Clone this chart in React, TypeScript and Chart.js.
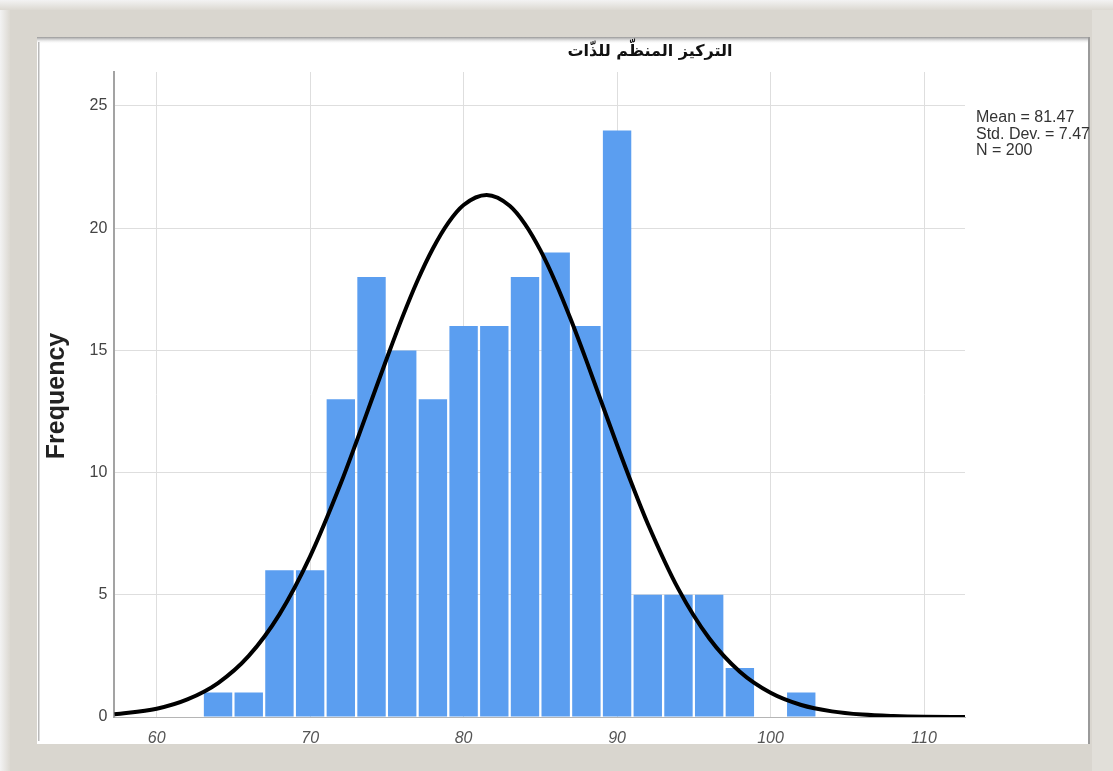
import React, { useEffect, useRef } from "react";
import { Chart, registerables } from "chart.js";

Chart.register(...registerables);

// ---- data ----
const chartTitle = "التركيز المنظّم للذّات";
const yAxisTitle = "Frequency";
const statsLines = ["Mean = 81.47", "Std. Dev. = 7.47", "N = 200"];

const binCenters = [64, 66, 68, 70, 72, 74, 76, 78, 80, 82, 84, 86, 88, 90, 92, 94, 96, 98, 100, 102];
const frequencies = [1, 1, 6, 6, 13, 18, 15, 13, 16, 16, 18, 19, 16, 24, 5, 5, 5, 2, 0, 1];

const curveX = [57.24, 60, 62, 64, 66, 68, 70, 72, 73, 74, 75, 76, 77, 78, 79, 80, 81.5, 83, 84, 85, 86, 87, 88, 89, 90, 91, 92, 94, 96, 98, 100, 102, 104, 106, 108, 110, 112.67];
const curveY = [0.11, 0.34, 0.72, 1.39, 2.5, 4.2, 6.57, 9.56, 11.23, 12.96, 14.68, 16.34, 17.86, 19.17, 20.22, 20.95, 21.36, 20.92, 20.17, 19.1, 17.77, 16.24, 14.58, 12.85, 11.13, 9.47, 7.91, 5.23, 3.22, 1.85, 0.99, 0.49, 0.23, 0.1, 0.04, 0.01, 0.0];

const xTicks = [60, 70, 80, 90, 100, 110];
const yTicks = [0, 5, 10, 15, 20, 25];

const X_MIN = 57.24;
const X_MAX = 112.67;
const Y_MAX = 26.39;

const W = 1113;
const H = 771;

const framePlugin = {
  id: "frame",
  beforeDraw(chart: any) {
    const ctx = chart.ctx as CanvasRenderingContext2D;
    ctx.save();
    ctx.fillStyle = "#d9d6cf";
    ctx.fillRect(0, 0, W, H);
    let g = ctx.createLinearGradient(0, 0, 0, 10);
    g.addColorStop(0, "#f3f3f3");
    g.addColorStop(1, "#dcd9d2");
    ctx.fillStyle = g;
    ctx.fillRect(0, 0, W, 10);
    g = ctx.createLinearGradient(0, 0, 10, 0);
    g.addColorStop(0, "#f3f3f3");
    g.addColorStop(1, "#dcd9d2");
    ctx.fillStyle = g;
    ctx.fillRect(0, 10, 10, H - 10);
    // right lighter band
    ctx.fillStyle = "#e1dfd9";
    ctx.fillRect(1092, 10, W - 1092, H - 10);
    // white panel
    ctx.fillStyle = "#ffffff";
    ctx.fillRect(37, 37, 1053, 707);
    // top shadow
    g = ctx.createLinearGradient(0, 37, 0, 44);
    g.addColorStop(0, "rgba(140,140,140,0.9)");
    g.addColorStop(1, "rgba(255,255,255,0)");
    ctx.fillStyle = g;
    ctx.fillRect(37, 37, 1053, 7);
    // left line
    ctx.fillStyle = "#b9b9b9";
    ctx.fillRect(38, 42, 1.5, 699);
    // right line
    ctx.fillStyle = "#9a9a9a";
    ctx.fillRect(1088, 37, 2, 707);
    ctx.restore();
  },
  afterDraw(chart: any) {
    const ctx = chart.ctx as CanvasRenderingContext2D;
    ctx.save();
    // title
    ctx.fillStyle = "#111111";
    ctx.font = 'bold 16px "DejaVu Sans"';
    ctx.textAlign = "center";
    ctx.textBaseline = "middle";
    ctx.fillText(chartTitle, 650, 52);
    // y title
    ctx.save();
    ctx.translate(57, 396);
    ctx.rotate(-Math.PI / 2);
    ctx.font = 'bold 25px "Liberation Sans"';
    ctx.fillStyle = "#222222";
    ctx.textAlign = "center";
    ctx.textBaseline = "middle";
    ctx.fillText(yAxisTitle, 0, 0);
    ctx.restore();
    // stats
    ctx.font = '16px "Liberation Sans"';
    ctx.fillStyle = "#333333";
    ctx.textAlign = "left";
    ctx.textBaseline = "alphabetic";
    statsLines.forEach((t, i) => ctx.fillText(t, 976, 122 + i * 16.5));
    ctx.restore();
  },
};

export default function App() {
  const ref = useRef<HTMLCanvasElement | null>(null);
  useEffect(() => {
    if (!ref.current) return;
    const chart = new Chart(ref.current, {
      type: "bar",
      data: {
        datasets: [
          {
            type: "line",
            data: curveX.map((x, i) => ({ x, y: curveY[i] })),
            borderColor: "#000000",
            borderWidth: 4,
            pointRadius: 0,
            fill: false,
            cubicInterpolationMode: "monotone",
            order: 0,
          } as any,
          {
            type: "bar",
            data: binCenters.map((x, i) => ({ x, y: frequencies[i] })),
            backgroundColor: "#5b9ef0",
            borderWidth: 0,
            barPercentage: 0.925,
            categoryPercentage: 1,
            order: 1,
          } as any,
        ],
      },
      options: {
        responsive: false,
        animation: false,
        devicePixelRatio: 1,
        layout: { padding: { left: 0, top: 72, right: 148, bottom: 14 } },
        plugins: { legend: { display: false }, tooltip: { enabled: false }, title: { display: false } },
        scales: {
          x: {
            type: "linear",
            min: X_MIN,
            max: X_MAX,
            offset: false,
            afterBuildTicks: (s: any) => {
              s.ticks = xTicks.map((v) => ({ value: v }));
            },
            afterFit: (s: any) => {
              s.height = 40;
            },
            grid: { color: "#dedede", lineWidth: 1, drawTicks: false, offset: false },
            border: { display: true, color: "#b5b5b5", width: 1 },
            ticks: {
              padding: 12,
              color: "#555555",
              autoSkip: false,
              maxRotation: 0,
              font: { family: "Liberation Sans", size: 16, style: "italic" },
            },
          },
          y: {
            type: "linear",
            min: 0,
            max: Y_MAX,
            afterBuildTicks: (s: any) => {
              s.ticks = yTicks.map((v) => ({ value: v }));
            },
            afterFit: (s: any) => {
              s.width = 114.3;
            },
            grid: { color: "#dedede", lineWidth: 1, drawTicks: false },
            border: { display: true, color: "#a3a3a3", width: 2 },
            ticks: {
              padding: 7,
              color: "#444444",
              font: { family: "Liberation Sans", size: 16 },
            },
          },
        },
      } as any,
      plugins: [framePlugin],
    });
    return () => chart.destroy();
  }, []);
  return (
    <div style={{ position: "absolute", left: 0, top: 0, width: W, height: H }}>
      <canvas ref={ref} width={W} height={H} style={{ display: "block", width: W, height: H }} />
    </div>
  );
}
